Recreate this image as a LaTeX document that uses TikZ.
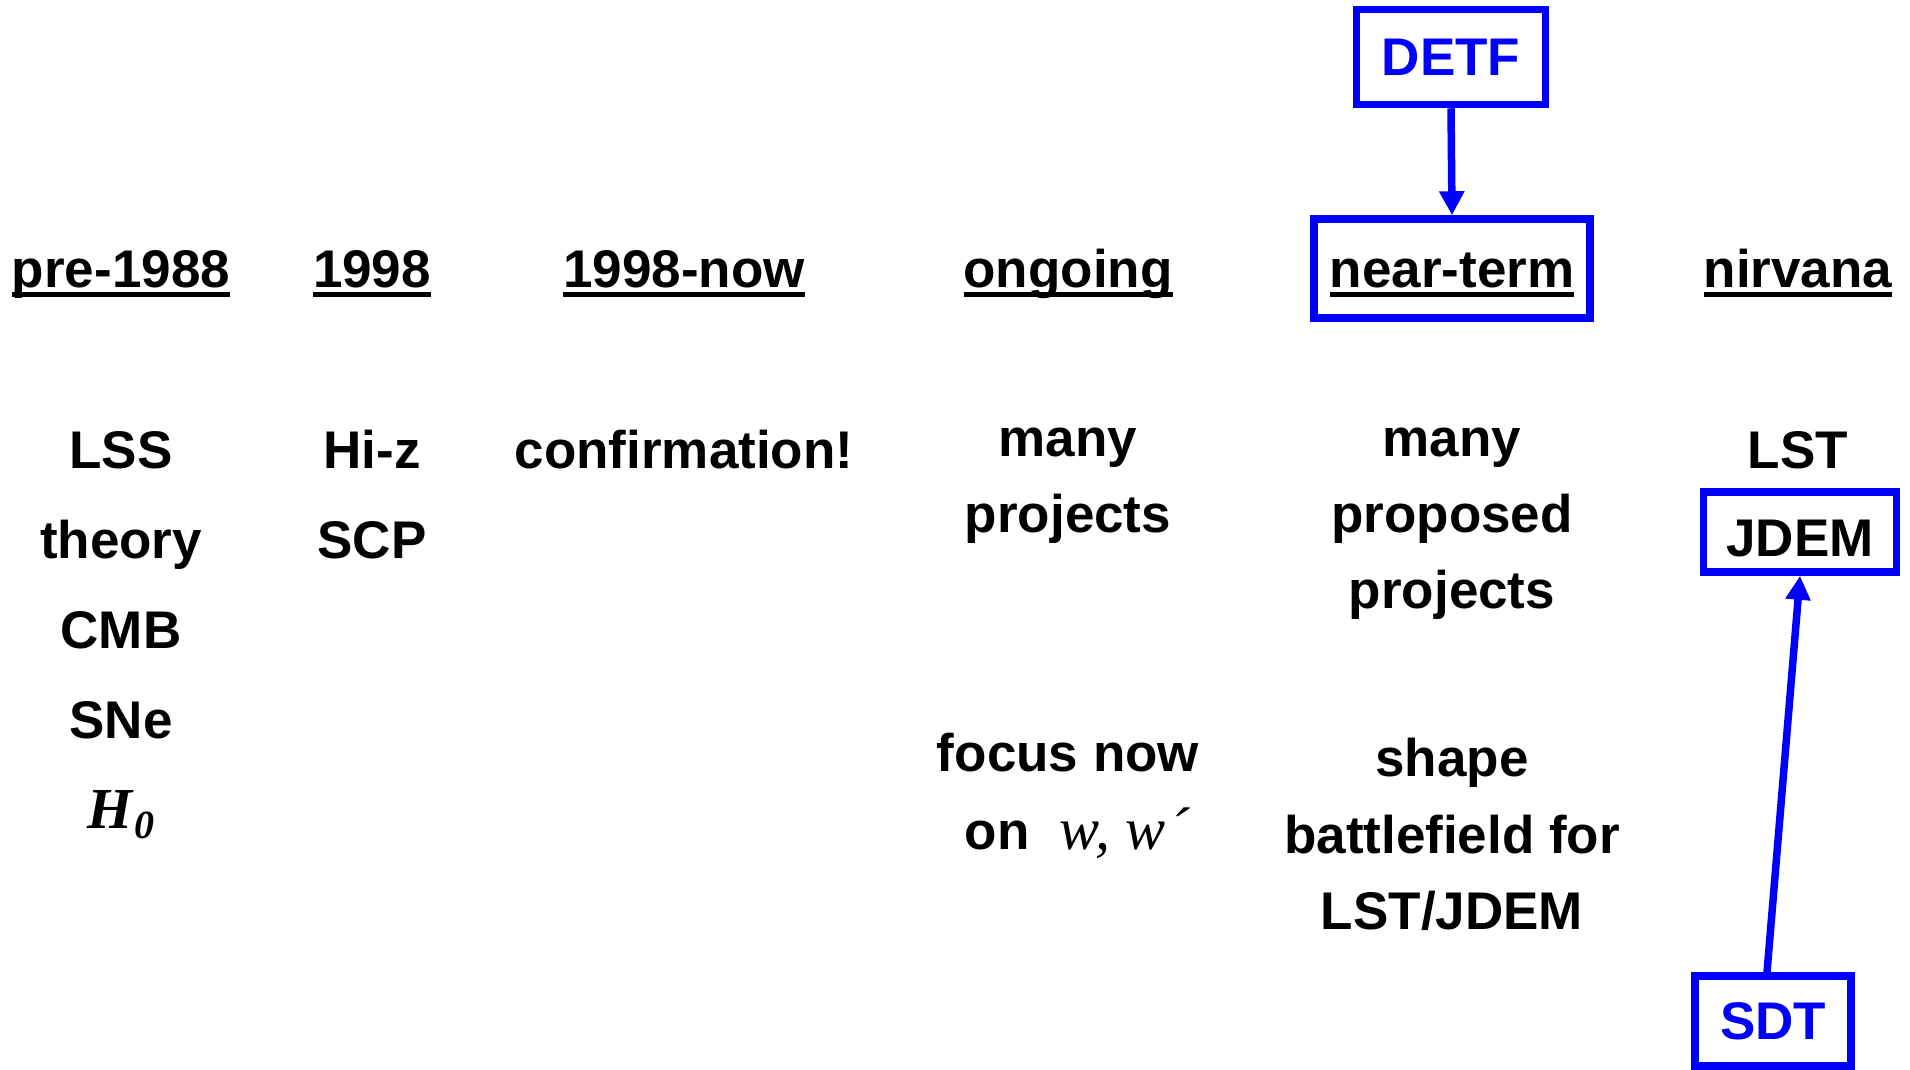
\documentclass[tikz,border=0pt]{standalone}
\usepackage{fontspec}
\setmainfont{Liberation Sans}
\newfontfamily\tnr{Liberation Serif}
\usetikzlibrary{arrows.meta}
\definecolor{pblue}{RGB}{0,0,255}
\newcommand\hdr[1]{\setbox0\hbox{#1}\rlap{\rule[-10pt]{\wd0}{5pt}}\box0}
\begin{document}
\begin{tikzpicture}[x=1pt,y=-1pt,
  txt/.style={anchor=base,inner sep=0pt,font=\fontsize{53}{60}\selectfont\bfseries},
  bbox/.style={draw=pblue,line width=7.5pt,inner sep=0pt,font=\fontsize{53}{60}\selectfont\bfseries},
  barrow/.style={draw=pblue,line width=7.5pt,-{Triangle[length=24pt,width=24pt]}}]
\useasboundingbox (0,0) rectangle (1910,1069);
% headers
\node[txt] (h1) at (121,287) {\hdr{pre-1988}};
\node[txt] (h2) at (372,287) {\hdr{1998}};
\node[txt] (h3) at (684,287) {\hdr{1998-now}};
\node[txt] (h4) at (1068,287) {\hdr{ongoing}};
\node[txt] (h5) at (1452,287) {\hdr{near-term}};
\node[txt] (h6) at (1798,287) {\hdr{nirvana}};
% column 1
\node[txt] (c1a) at (121,468) {LSS};
\node[txt] (c1b) at (121,558) {theory};
\node[txt] (c1c) at (121,648) {CMB};
\node[txt] (c1d) at (121,738) {SNe};
\node[txt] (c1e) at (121,828) {\fontsize{58}{60}\tnr\bfseries\itshape H\kern1pt\raisebox{-10pt}{\fontsize{40}{40}\selectfont 0}};
% column 2
\node[txt] (c2a) at (372,468) {Hi-z};
\node[txt] (c2b) at (372,558) {SCP};
% column 3
\node[txt] (c3a) at (684,468) {confirmation!};
% column 4
\node[txt] (c4a) at (1068,456) {many};
\node[txt] (c4b) at (1068,532) {projects};
\node[txt] (c4c) at (1068,771) {focus now};
\node[txt] (c4d) at (1077,849) {on\hspace{30pt}{\fontsize{60}{60}\tnr\mdseries\itshape w, w\kern4pt\char"00B4}};
% column 5
\node[txt] (c5a) at (1452,456) {many};
\node[txt] (c5b) at (1452,532) {proposed};
\node[txt] (c5c) at (1452,608) {projects};
\node[txt] (c5d) at (1452,776) {shape};
\node[txt] (c5e) at (1452,853) {battlefield for};
\node[txt] (c5f) at (1452,929) {LST/JDEM};
% column 6
\node[txt] (c6a) at (1798,468) {LST};
% boxes
\node[bbox,minimum width=189,minimum height=95,text=pblue] (detf) at (1451,57) {DETF};
\node[bbox,minimum width=276,minimum height=99] (nbox) at (1452,268.5) {};
\node[bbox,minimum width=193,minimum height=80,text height=48pt,text depth=0pt] (jdem) at (1800,532) {JDEM};
\node[bbox,minimum width=156,minimum height=90,text=pblue] (sdt) at (1773,1021) {SDT};
% arrows
\draw[barrow] (detf.south) -- (nbox.north);
\draw[barrow] ([xshift=-6pt]sdt.north) -- (jdem.south);
\end{tikzpicture}
\end{document}
